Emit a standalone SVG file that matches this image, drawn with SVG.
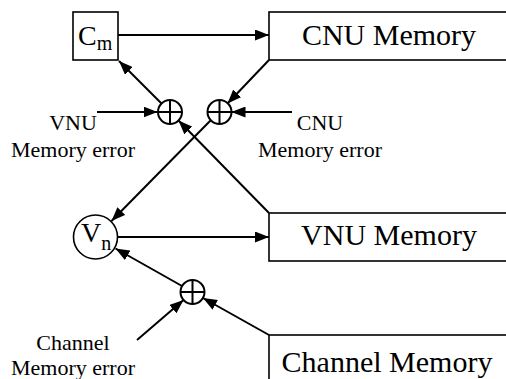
<svg xmlns="http://www.w3.org/2000/svg" width="506" height="379" viewBox="0 0 506 379">
<style>
.box{fill:#fff;stroke:#000;stroke-width:1.6}
.add{fill:#fff;stroke:#000;stroke-width:2}
.line{stroke:#000;stroke-width:2;fill:none}
.big{font-family:"Liberation Serif",serif;font-size:30px;text-anchor:middle}
.lbl{font-family:"Liberation Serif",serif;font-size:22px;text-anchor:middle}
.sym{font-family:"Liberation Serif",serif;font-size:28px}
</style>
<defs>
<marker id="ah" markerUnits="userSpaceOnUse" markerWidth="14" markerHeight="11" refX="14" refY="5.5" orient="auto">
<path d="M0,0 L14,5.5 L0,11 z" fill="#000"/>
</marker>
</defs>
<g id="connectors">
<line class="line" x1="118" y1="35" x2="269" y2="35" marker-end="url(#ah)"/>
<line class="line" x1="161.5" y1="103.5" x2="119" y2="61" marker-end="url(#ah)"/>
<line class="line" x1="269" y1="60" x2="227.5" y2="103.5" marker-end="url(#ah)"/>
<line class="line" x1="292" y1="112" x2="231.5" y2="112" marker-end="url(#ah)"/>
<line class="line" x1="97" y1="112" x2="157.5" y2="112" marker-end="url(#ah)"/>
<line class="line" x1="269" y1="213" x2="178.5" y2="120.5" marker-end="url(#ah)"/>
<line class="line" x1="210.5" y1="120.5" x2="111.5" y2="221" marker-end="url(#ah)"/>
<line class="line" x1="118" y1="237" x2="269" y2="237" marker-end="url(#ah)"/>
<line class="line" x1="269" y1="335" x2="203" y2="298" marker-end="url(#ah)"/>
<line class="line" x1="137" y1="340" x2="183.5" y2="300" marker-end="url(#ah)"/>
<line class="line" x1="182" y1="286" x2="115.5" y2="248.5" marker-end="url(#ah)"/>
</g>
<g id="cm">
<rect class="box" x="73" y="12" width="45" height="48"/>
<text class="sym" x="78" y="45">C<tspan font-size="20" dy="5">m</tspan></text>
</g>
<g id="cnu-memory">
<rect class="box" x="269" y="12" width="250" height="48"/>
<text class="big" x="389" y="45">CNU Memory</text>
</g>
<g id="vnu-memory">
<rect class="box" x="269" y="213" width="250" height="48"/>
<text class="big" x="389" y="245">VNU Memory</text>
</g>
<g id="channel-memory">
<rect class="box" x="269" y="335" width="250" height="60"/>
<text class="big" x="387" y="372">Channel Memory</text>
</g>
<g id="vn">
<circle class="box" cx="95.5" cy="237" r="22"/>
<text class="sym" x="81" y="242">V<tspan font-size="20" dy="8">n</tspan></text>
</g>
<g id="adder1">
<circle class="add" cx="170" cy="112" r="12"/>
<path class="line" d="M158,112 H182 M170,100 V124"/>
</g>
<g id="adder2">
<circle class="add" cx="219.5" cy="112" r="12"/>
<path class="line" d="M207.5,112 H231.5 M219.5,100 V124"/>
</g>
<g id="adder3">
<circle class="add" cx="192.5" cy="292" r="12"/>
<path class="line" d="M180.5,292 H204.5 M192.5,280 V304"/>
</g>
<g id="vnu-error">
<text class="lbl" x="73" y="130">VNU</text>
<text class="lbl" x="73" y="157">Memory error</text>
</g>
<g id="cnu-error">
<text class="lbl" x="320" y="130">CNU</text>
<text class="lbl" x="320" y="157">Memory error</text>
</g>
<g id="channel-error">
<text class="lbl" x="73" y="350">Channel</text>
<text class="lbl" x="73" y="375">Memory error</text>
</g>
</svg>
